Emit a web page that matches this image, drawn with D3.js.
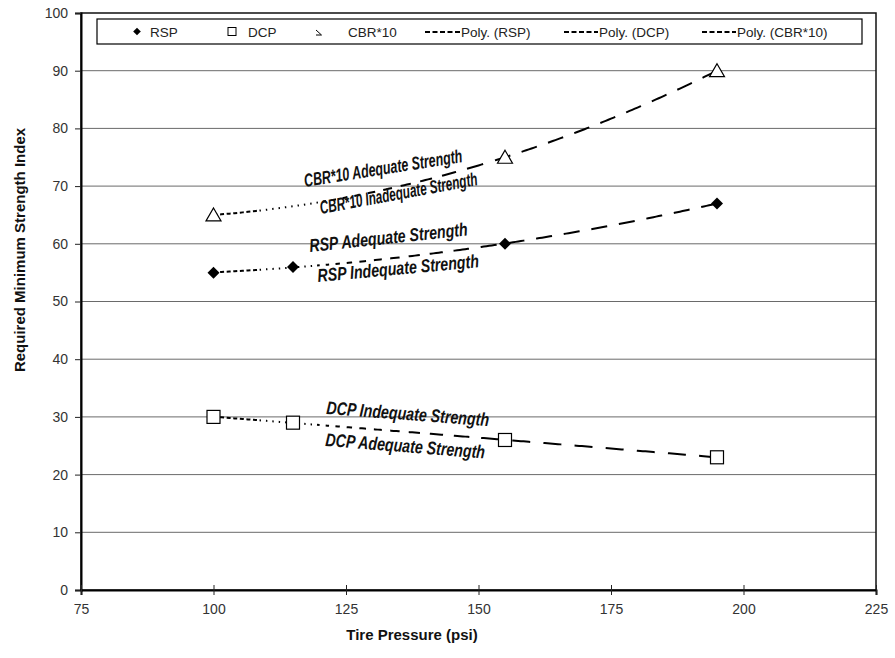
<!DOCTYPE html>
<html>
<head>
<meta charset="utf-8">
<script src="https://cdn.jsdelivr.net/npm/d3@7"></script>
<style>
  html, body { margin: 0; padding: 0; background: #fff; }
  svg { display: block; }
  text { font-family: "Liberation Sans", Arial, sans-serif; }
</style>
</head>
<body>
<svg id="chart" width="895" height="658"></svg>
<script>
// Tire pressure (psi) at which each index was evaluated
const rspPressure = [100, 115, 155, 195];
const rspValues   = [55, 56, 60, 67];
const dcpPressure = [100, 115, 155, 195];
const dcpValues   = [30, 29, 26, 23];
const cbrPressure = [100, 155, 195];
const cbrValues   = [65, 75, 90];

const xTicks = [75, 100, 125, 150, 175, 200, 225];
const yTicks = [0, 10, 20, 30, 40, 50, 60, 70, 80, 90, 100];

const legendItems = ["RSP", "DCP", "CBR*10", "Poly. (RSP)", "Poly. (DCP)", "Poly. (CBR*10)"];

// Strength zone annotations along each trend line
const zoneLabels = [
  { text: "CBR*10 Adequate Strength",   x: 305, y: 187, angle: -9,   len: 160 },
  { text: "CBR*10 Inadequate Strength", x: 321, y: 214, angle: -10.5, len: 160 },
  { text: "RSP Adequate Strength",      x: 310, y: 252, angle: -6,   len: 159 },
  { text: "RSP Indequate Strength",     x: 318, y: 282, angle: -5.2, len: 162 },
  { text: "DCP Indequate Strength",     x: 326, y: 414, angle: 4.3,  len: 163 },
  { text: "DCP Adequate Strength",      x: 325, y: 446, angle: 4.5,  len: 160 }
];

const svg = d3.select("#chart");
const x = d3.scaleLinear().domain([75, 225]).range([81, 876]);
const y = d3.scaleLinear().domain([0, 100]).range([590, 13]);

// Horizontal gridlines
svg.append("g").selectAll("line")
  .data(yTicks.filter(v => v > 0 && v < 100))
  .join("line")
  .attr("x1", x(75)).attr("x2", x(225))
  .attr("y1", d => y(d)).attr("y2", d => y(d))
  .attr("stroke", "#6a6a6a").attr("stroke-width", 1);

// Plot frame
svg.append("rect")
  .attr("x", x(75)).attr("y", y(100))
  .attr("width", x(225) - x(75)).attr("height", y(0) - y(100))
  .attr("fill", "none").attr("stroke", "#111").attr("stroke-width", 1.5);

// Y axis
const yAxis = svg.append("g")
  .attr("transform", `translate(${x(75)},0)`)
  .call(d3.axisLeft(y).tickValues(yTicks).tickSize(6).tickPadding(7).tickFormat(d3.format("d")));
yAxis.select(".domain").attr("stroke", "#000").attr("stroke-width", 2);
yAxis.selectAll(".tick line").attr("stroke", "#222");
yAxis.selectAll(".tick text").attr("font-size", 14).attr("fill", "#333")
  .attr("font-family", "'Liberation Sans', Arial, sans-serif");

// X axis (ticks cross the axis line)
const xAxis = svg.append("g")
  .attr("transform", `translate(0,${y(0)})`)
  .call(d3.axisBottom(x).tickValues(xTicks).tickSize(5).tickPadding(9).tickFormat(d3.format("d")));
xAxis.select(".domain").attr("stroke", "#000").attr("stroke-width", 2);
xAxis.selectAll(".tick line").attr("stroke", "#222").attr("y1", -5);
xAxis.selectAll(".tick text").attr("font-size", 14).attr("fill", "#333")
  .attr("font-family", "'Liberation Sans', Arial, sans-serif");

// Axis titles
svg.append("text")
  .attr("x", 412).attr("y", 640)
  .attr("text-anchor", "middle").attr("font-weight", "bold").attr("font-size", 15)
  .attr("fill", "#111")
  .text("Tire Pressure (psi)");
svg.append("text")
  .attr("transform", "translate(25,250) rotate(-90)")
  .attr("text-anchor", "middle").attr("font-weight", "bold").attr("font-size", 15)
  .attr("fill", "#111")
  .text("Required Minimum Strength Index");

// Least-squares quadratic trend (Excel "Poly." order 2)
function polyFit(xs, ys) {
  const n = xs.length;
  const S = k => d3.sum(xs, v => Math.pow(v, k));
  const T = k => d3.sum(xs.map((v, i) => Math.pow(v, k) * ys[i]));
  const A = [[n, S(1), S(2)], [S(1), S(2), S(3)], [S(2), S(3), S(4)]];
  const b = [T(0), T(1), T(2)];
  for (let i = 0; i < 3; i++) {
    for (let j = i + 1; j < 3; j++) {
      const f = A[j][i] / A[i][i];
      for (let k = i; k < 3; k++) A[j][k] -= f * A[i][k];
      b[j] -= f * b[i];
    }
  }
  const c = [0, 0, 0];
  for (let i = 2; i >= 0; i--) {
    let s = b[i];
    for (let k = i + 1; k < 3; k++) s -= A[i][k] * c[k];
    c[i] = s / A[i][i];
  }
  return v => c[0] + c[1] * v + c[2] * v * v;
}

// Dash rhythm: short dashes, then dots, then lengthening dashes
const LONG_START = 470;
function dashFor(px) {
  if (px < 254) return [4, 2.6];
  if (px < 318) return [1.4, 5];
  const t = Math.min(1, (px - 318) / (LONG_START - 318));
  return [2.5 + t * 14.5, 6 + t * 6.5];
}

const lineGen = d3.line().x(d => d[0]).y(d => d[1]);

function drawTrend(xs, ys) {
  const f = polyFit(xs, ys);
  const pts = d3.range(xs[0], xs[xs.length - 1] + 0.25, 0.5).map(v => [x(v), y(f(v))]);
  const cum = [0];
  for (let i = 1; i < pts.length; i++) {
    cum.push(cum[i - 1] + Math.hypot(pts[i][0] - pts[i - 1][0], pts[i][1] - pts[i - 1][1]));
  }
  const total = cum[cum.length - 1];
  const xAt = s => pts[Math.min(d3.bisectLeft(cum, s), pts.length - 1)][0];
  const arr = [];
  let s = 0;
  while (xAt(s) < LONG_START) {
    const [d, g] = dashFor(xAt(s));
    arr.push(d, g);
    s += d + g;
  }
  // long dashes fitted so the line finishes on a dash at the last point
  const rest = total - s;
  const n = Math.max(1, Math.round((rest + 12.5) / 29.5));
  const k = rest / (n * 17 + (n - 1) * 12.5);
  for (let i = 0; i < n; i++) {
    arr.push(17 * k, i < n - 1 ? 12.5 * k : 50);
  }
  svg.append("path")
    .attr("d", lineGen(pts))
    .attr("fill", "none").attr("stroke", "#000").attr("stroke-width", 2)
    .attr("stroke-dasharray", arr.map(v => v.toFixed(2)).join(","));
}

drawTrend(rspPressure, rspValues);
drawTrend(dcpPressure, dcpValues);
drawTrend(cbrPressure, cbrValues);

// Markers
const diamondPath = r => `M0,${-r} L${r},0 L0,${r} L${-r},0 Z`;
svg.append("g").selectAll("path")
  .data(rspPressure.map((p, i) => [p, rspValues[i]]))
  .join("path")
  .attr("d", diamondPath(6))
  .attr("transform", d => `translate(${x(d[0])},${y(d[1])})`)
  .attr("fill", "#000");

svg.append("g").selectAll("rect")
  .data(dcpPressure.map((p, i) => [p, dcpValues[i]]))
  .join("rect")
  .attr("x", d => x(d[0]) - 6.5).attr("y", d => y(d[1]) - 6.5)
  .attr("width", 13).attr("height", 13)
  .attr("fill", "#fff").attr("stroke", "#000").attr("stroke-width", 1.2);

svg.append("g").selectAll("path")
  .data(cbrPressure.map((p, i) => [p, cbrValues[i]]))
  .join("path")
  .attr("d", "M0,-7 L7.5,6 L-7.5,6 Z")
  .attr("transform", d => `translate(${x(d[0])},${y(d[1])})`)
  .attr("fill", "#fff").attr("stroke", "#000").attr("stroke-width", 1.2);

// Zone annotations
svg.append("g").selectAll("text")
  .data(zoneLabels)
  .join("text")
  .attr("transform", d => `translate(${d.x},${d.y}) rotate(${d.angle})`)
  .attr("font-family", "'Liberation Sans Narrow', 'Liberation Sans', Arial, sans-serif")
  .attr("font-weight", "bold").attr("font-style", "italic")
  .attr("font-size", 18.5).attr("fill", "#111")
  .attr("textLength", d => d.len).attr("lengthAdjust", "spacingAndGlyphs")
  .text(d => d.text);

// Legend
const legend = svg.append("g");
legend.append("rect")
  .attr("x", 97).attr("y", 19).attr("width", 765).attr("height", 25)
  .attr("fill", "#fff").attr("stroke", "#000").attr("stroke-width", 1.2);

const legendY = 31.5;
const legendLayout = [
  { key: "diamond", mx: 137, tx: 150 },
  { key: "square",  mx: 232, tx: 248 },
  { key: "tri",     mx: 319, tx: 348 },
  { key: "dash",    mx: 425, tx: 461 },
  { key: "dash",    mx: 564, tx: 599 },
  { key: "dash",    mx: 702, tx: 737 }
];
legendLayout.forEach((L, i) => {
  if (L.key === "diamond") {
    legend.append("path").attr("d", diamondPath(3.8))
      .attr("transform", `translate(${L.mx},${legendY})`).attr("fill", "#000");
  } else if (L.key === "square") {
    legend.append("rect").attr("x", L.mx - 4).attr("y", legendY - 4)
      .attr("width", 8).attr("height", 8)
      .attr("fill", "#fff").attr("stroke", "#000").attr("stroke-width", 1);
  } else if (L.key === "tri") {
    legend.append("path").attr("d", "M-3,-1.5 L2.5,3.5 L-3,3.5")
      .attr("transform", `translate(${L.mx},${legendY})`)
      .attr("fill", "none").attr("stroke", "#000").attr("stroke-width", 1);
  } else {
    legend.append("line")
      .attr("x1", L.mx).attr("x2", L.tx - 1)
      .attr("y1", legendY + 0.5).attr("y2", legendY + 0.5)
      .attr("stroke", "#000").attr("stroke-width", 2.2)
      .attr("stroke-dasharray", "5,2.5");
  }
  legend.append("text")
    .attr("x", L.tx).attr("y", legendY + 5)
    .attr("font-size", 13.5).attr("fill", "#222")
    .text(legendItems[i]);
});
</script>
</body>
</html>
